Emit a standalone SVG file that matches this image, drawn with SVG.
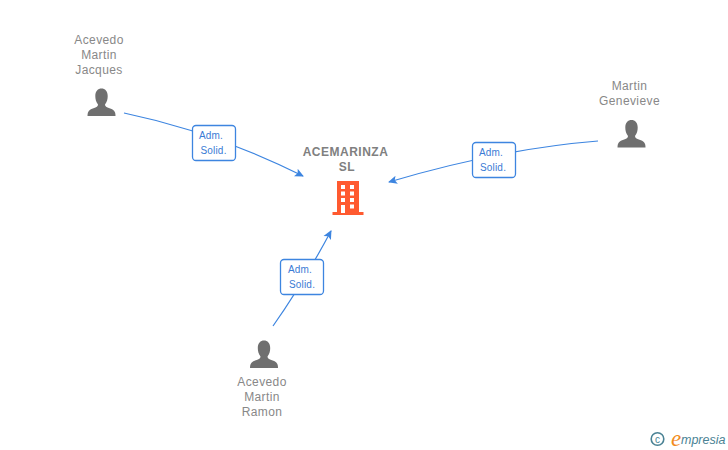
<svg xmlns="http://www.w3.org/2000/svg" width="728" height="450" viewBox="0 0 728 450">
<style>
text{font-family:"Liberation Sans",Arial,sans-serif}
.n{font-size:12px;letter-spacing:.4px;fill:#888;text-anchor:middle}
.c{font-size:12px;font-weight:bold;letter-spacing:.5px;fill:#808080;text-anchor:middle}
.l{font-size:10px;letter-spacing:.2px;fill:#3a7bd5;text-anchor:middle}
.b{fill:#fff;stroke:#3d85e0;stroke-width:1.300}
.e{fill:none;stroke:#3d85e0;stroke-width:1.200;marker-end:url(#a)}
.p{fill:#6f6f6f}
.w{fill:#fff}
</style>
<defs>
<marker id="a" markerWidth="10" markerHeight="10" refX="8" refY="5" orient="auto" markerUnits="userSpaceOnUse"><path d="M0 0.8L9 5L0 9.2L2 5Z" fill="#3d85e0"/></marker>
<path id="u" d="M-14 15C-14 10-12 8.500-8 7.300C-5 6.300-3.500 5.500-3.500 3.500C-5.500 1-6.200-2-6.200-5C-6.200-10-3.500-12.500 0-12.500C3.500-12.500 6.200-10 6.200-5C6.200-2 5.500 1 3.500 3.500C3.500 5.500 5 6.300 8 7.300C12 8.500 14 10 14 15Z"/>
</defs>
<g id="connectors">
<path class="e" d="M124 113Q215 132 303 176"/>
<path class="e" d="M598 141Q500 149 389 182"/>
<path class="e" d="M273 326Q302 285 331 231"/>
</g>
<g id="edge-label-1"><rect class="b" x="192.500" y="125.500" width="43" height="35" rx="3.500"/><text class="l" x="211" y="138.500">Adm.</text><text class="l" x="213.500" y="154">Solid.</text></g>
<g id="edge-label-2"><rect class="b" x="472.500" y="142.500" width="43" height="35" rx="3.500"/><text class="l" x="491" y="156">Adm.</text><text class="l" x="493" y="171">Solid.</text></g>
<g id="edge-label-3"><rect class="b" x="280.500" y="259.500" width="43" height="35" rx="3.500"/><text class="l" x="300" y="273">Adm.</text><text class="l" x="302" y="288">Solid.</text></g>
<g id="node-jacques"><text class="n" x="99" y="44">Acevedo</text><text class="n" x="99" y="59">Martin</text><text class="n" x="99" y="74">Jacques</text><use class="p" href="#u" x="101.500" y="101"/></g>
<g id="node-genevieve"><text class="n" x="629.500" y="90">Martin</text><text class="n" x="629.500" y="105">Genevieve</text><use class="p" href="#u" x="631.500" y="132.500"/></g>
<g id="node-ramon"><text class="n" x="262" y="386">Acevedo</text><text class="n" x="262" y="401">Martin</text><text class="n" x="262" y="416">Ramon</text><use class="p" href="#u" x="264" y="353"/></g>
<g id="node-company">
<text class="c" x="345.500" y="156">ACEMARINZA</text><text class="c" x="347" y="171">SL</text>
<path d="M337 181H359V212H363.500V215H332.500V212H337Z" fill="#ff5a30"/>
<g class="w"><rect x="341" y="185" width="4" height="4"/><rect x="350" y="185" width="4" height="4"/><rect x="341" y="191.500" width="4" height="4"/><rect x="350" y="191.500" width="4" height="4"/><rect x="341" y="198" width="4" height="4"/><rect x="350" y="198" width="4" height="4"/><rect x="341" y="205" width="4" height="8"/><rect x="350" y="204.500" width="4" height="4"/></g>
</g>
<g id="logo">
<circle cx="657.500" cy="439" r="6.300" fill="none" stroke="#4a8294" stroke-width="1.600"/>
<text x="657.500" y="442.500" font-size="10" fill="#4a8294" text-anchor="middle">c</text>
<text x="671" y="446" font-size="23" font-style="italic" fill="#f28c1e" style="font-family:'Liberation Serif',serif">e</text>
<text x="681" y="444" font-size="12.500" font-style="italic" fill="#4a8294">mpresia</text>
</g>
</svg>
